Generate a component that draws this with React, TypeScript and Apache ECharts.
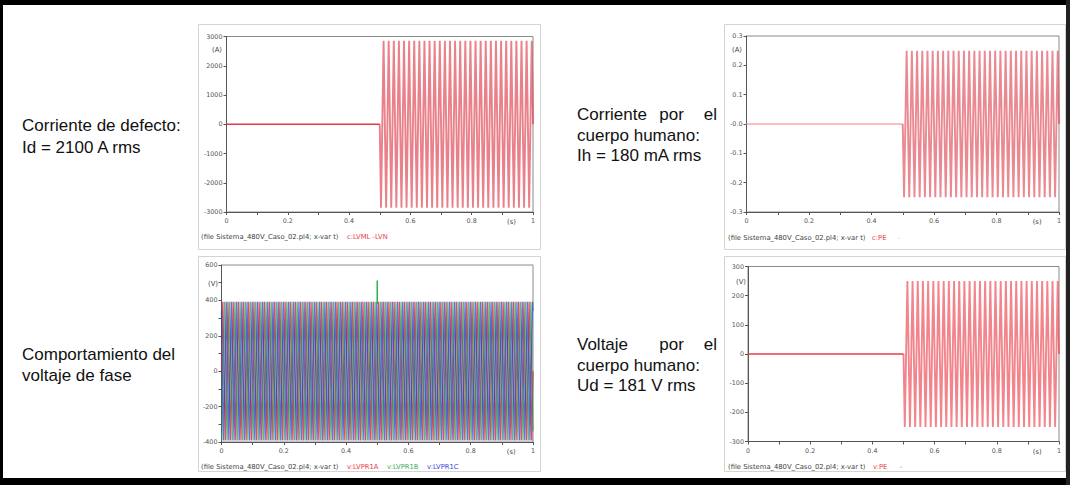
import React, { useEffect, useRef } from "react";
import * as echarts from "echarts";

// ---------------- data ----------------
const timeMin = 0;
const timeMax = 1;
const timeStep = 0.1;
const faultStart = 0.5;
const halfCycle = 1 / 120;

// Fault current c:LVML-LVN (A): successive extremes after the fault
const faultCurrentPeaks = [
  -2850, 2850, -2850, 2850, -2850, 2850, -2850, 2850, -2850, 2850,
  -2850, 2850, -2850, 2850, -2850, 2850, -2850, 2850, -2850, 2850,
  -2850, 2850, -2850, 2850, -2850, 2850, -2850, 2850, -2850, 2850,
  -2850, 2850, -2850, 2850, -2850, 2850, -2850, 2850, -2850, 2850,
  -2850, 2850, -2850, 2850, -2850, 2850, -2850, 2850, -2850, 2850,
  -2850, 2850, -2850, 2850, -2850, 2850, -2850, 2850, -2850, 2850,
];
// Body current c:PE (A)
const bodyCurrentPeaks = [
  -0.25, 0.25, -0.25, 0.25, -0.25, 0.25, -0.25, 0.25, -0.25, 0.25,
  -0.25, 0.25, -0.25, 0.25, -0.25, 0.25, -0.25, 0.25, -0.25, 0.25,
  -0.25, 0.25, -0.25, 0.25, -0.25, 0.25, -0.25, 0.25, -0.25, 0.25,
  -0.25, 0.25, -0.25, 0.25, -0.25, 0.25, -0.25, 0.25, -0.25, 0.25,
  -0.25, 0.25, -0.25, 0.25, -0.25, 0.25, -0.25, 0.25, -0.25, 0.25,
  -0.25, 0.25, -0.25, 0.25, -0.25, 0.25, -0.25, 0.25, -0.25, 0.25,
];
// Body voltage v:PE (V)
const bodyVoltagePeaks = [
  -250, 250, -250, 250, -250, 250, -250, 250, -250, 250,
  -250, 250, -250, 250, -250, 250, -250, 250, -250, 250,
  -250, 250, -250, 250, -250, 250, -250, 250, -250, 250,
  -250, 250, -250, 250, -250, 250, -250, 250, -250, 250,
  -250, 250, -250, 250, -250, 250, -250, 250, -250, 250,
  -250, 250, -250, 250, -250, 250, -250, 250, -250, 250,
];
// Phase voltages v:LVPR1A / B / C (V): successive extremes over 0..1 s
const phaseAPeaks = [
  392, -392, 392, -392, 392, -392, 392, -392, 392, -392, 392, -392,
  392, -392, 392, -392, 392, -392, 392, -392, 392, -392, 392, -392,
  392, -392, 392, -392, 392, -392, 392, -392, 392, -392, 392, -392,
  392, -392, 392, -392, 392, -392, 392, -392, 392, -392, 392, -392,
  392, -392, 392, -392, 392, -392, 392, -392, 392, -392, 392, -392,
  392, -392, 392, -392, 392, -392, 392, -392, 392, -392, 392, -392,
  392, -392, 392, -392, 392, -392, 392, -392, 392, -392, 392, -392,
  392, -392, 392, -392, 392, -392, 392, -392, 392, -392, 392, -392,
  392, -392, 392, -392, 392, -392, 392, -392, 392, -392, 392, -392,
  392, -392, 392, -392, 392, -392, 392, -392, 392, -392, 392, -392,
];
const phaseBPeaks = [
  -392, 392, -392, 392, -392, 392, -392, 392, -392, 392, -392, 392,
  -392, 392, -392, 392, -392, 392, -392, 392, -392, 392, -392, 392,
  -392, 392, -392, 392, -392, 392, -392, 392, -392, 392, -392, 392,
  -392, 392, -392, 392, -392, 392, -392, 392, -392, 392, -392, 392,
  -392, 392, -392, 392, -392, 392, -392, 392, -392, 392, -392, 392,
  -392, 392, -392, 392, -392, 392, -392, 392, -392, 392, -392, 392,
  -392, 392, -392, 392, -392, 392, -392, 392, -392, 392, -392, 392,
  -392, 392, -392, 392, -392, 392, -392, 392, -392, 392, -392, 392,
  -392, 392, -392, 392, -392, 392, -392, 392, -392, 392, -392, 392,
  -392, 392, -392, 392, -392, 392, -392, 392, -392, 392, -392, 392,
];
const phaseCPeaks = [
  -392, 392, -392, 392, -392, 392, -392, 392, -392, 392, -392, 392,
  -392, 392, -392, 392, -392, 392, -392, 392, -392, 392, -392, 392,
  -392, 392, -392, 392, -392, 392, -392, 392, -392, 392, -392, 392,
  -392, 392, -392, 392, -392, 392, -392, 392, -392, 392, -392, 392,
  -392, 392, -392, 392, -392, 392, -392, 392, -392, 392, -392, 392,
  -392, 392, -392, 392, -392, 392, -392, 392, -392, 392, -392, 392,
  -392, 392, -392, 392, -392, 392, -392, 392, -392, 392, -392, 392,
  -392, 392, -392, 392, -392, 392, -392, 392, -392, 392, -392, 392,
  -392, 392, -392, 392, -392, 392, -392, 392, -392, 392, -392, 392,
  -392, 392, -392, 392, -392, 392, -392, 392, -392, 392, -392, 392,
];
const phaseStartValues = [0, -340, 340];
const phaseEndValues = [0, -340, 340];
const phaseFirstPeakTimes = [0.004167, 0.001389, 0.006944];
const spikeTimes = [0.5, 0.5];
const spikeValues = [380, 512];

const fileLabel = "(file Sistema_480V_Caso_02.pl4; x-var t)";
const seriesNames = {
  fault: "c:LVML -LVN",
  bodyCurrent: "c:PE",
  phaseA: "v:LVPR1A",
  phaseB: "v:LVPR1B",
  phaseC: "v:LVPR1C",
  bodyVoltage: "v:PE",
};

// ---------------- helpers ----------------
function flatPart() {
  return [[timeMin, 0], [faultStart, 0]];
}
function afterFault(peaks: number[]) {
  const pts: number[][] = [[faultStart, 0]];
  peaks.forEach((v, i) => pts.push([faultStart + halfCycle / 2 + i * halfCycle, v]));
  pts.push([timeMax, 0]);
  return pts;
}
function phaseWave(idx: number, peaks: number[]) {
  const pts: number[][] = [[timeMin, phaseStartValues[idx]]];
  peaks.forEach((v, i) => pts.push([phaseFirstPeakTimes[idx] + i * halfCycle, v]));
  pts.push([timeMax, phaseEndValues[idx]]);
  return pts;
}

const grids = [
  { left: 226.5, top: 36.5, width: 306.5, height: 175.5 },
  { left: 746.5, top: 36, width: 312.5, height: 176 },
  { left: 221.5, top: 265, width: 311.5, height: 177 },
  { left: 748, top: 266.5, width: 311, height: 175 },
];
const yRanges = [
  { min: -3000, max: 3000, interval: 1000 },
  { min: -0.3, max: 0.3, interval: 0.1 },
  { min: -400, max: 600, interval: 100 },
  { min: -300, max: 300, interval: 100 },
];

const tickFont = { fontSize: 6.4, color: "#555", fontFamily: "DejaVu Sans" };

function yFormatter(i: number) {
  return (v: number) => {
    if (i === 1) {
      if (Math.abs(v) < 1e-9) return "-0.0";
      return v.toFixed(1);
    }
    if (i === 2) return Math.round(v) % 200 === 0 ? String(Math.round(v)) : "";
    return String(Math.round(v));
  };
}
function xFormatter(v: number) {
  const k = Math.round(v * 10);
  if (k % 2 !== 0) return "";
  if (k === 0) return "0";
  if (k === 10) return "1";
  return (k / 10).toFixed(1);
}

function txt(text: string, x: number, y: number, extra: any = {}) {
  return {
    type: "text",
    x,
    y,
    silent: true,
    z: 10,
    style: {
      text,
      fill: extra.fill || "#111",
      fontSize: extra.fontSize || 17,
      fontFamily: extra.fontFamily || "Liberation Sans",
      align: extra.align || "left",
      verticalAlign: "middle",
    },
  };
}

export default function App() {
  const ref = useRef<HTMLDivElement>(null);
  useEffect(() => {
    if (!ref.current) return;
    const chart = echarts.init(ref.current, null, { renderer: "svg" });

    const xAxes = grids.map((_, i) => ({
      type: "value",
      gridIndex: i,
      min: timeMin,
      max: timeMax,
      interval: timeStep,
      axisLine: { show: true, onZero: false, lineStyle: { color: "#555", width: 1 } },
      axisTick: { show: true, length: 3, lineStyle: { color: "#555" } },
      axisLabel: { ...tickFont, margin: 6, formatter: xFormatter, showMinLabel: true, showMaxLabel: true },
      splitLine: { show: false },
    }));
    const yAxes = grids.map((_, i) => ({
      type: "value",
      gridIndex: i,
      min: yRanges[i].min,
      max: yRanges[i].max,
      interval: yRanges[i].interval,
      axisLine: { show: true, onZero: false, lineStyle: { color: "#555", width: 1 } },
      axisTick: { show: true, length: 3, lineStyle: { color: "#555" } },
      axisLabel: { ...tickFont, margin: 4, formatter: yFormatter(i), showMinLabel: true, showMaxLabel: true },
      splitLine: { show: false },
    }));

    const line = (i: number, data: number[][], color: string, width = 1, opacity = 1, name = "") => ({
      type: "line",
      name,
      xAxisIndex: i,
      yAxisIndex: i,
      data,
      showSymbol: false,
      symbol: "none",
      silent: true,
      lineStyle: { color, width, opacity },
    });

    const series = [
      line(0, flatPart(), "#e23a46", 1.6, 1, seriesNames.fault),
      line(0, afterFault(faultCurrentPeaks), "#dc2c3c", 1.9, 0.6, seriesNames.fault),
      line(1, flatPart(), "#f6a9ae", 1.5, 1, seriesNames.bodyCurrent),
      line(1, afterFault(bodyCurrentPeaks), "#dc3a48", 1.9, 0.6, seriesNames.bodyCurrent),
      line(2, phaseWave(0, phaseAPeaks), "#d42434", 1.3, 0.8, seriesNames.phaseA),
      line(2, phaseWave(1, phaseBPeaks), "#1f9a4a", 1.3, 0.7, seriesNames.phaseB),
      line(2, phaseWave(2, phaseCPeaks), "#2a3ccc", 1.3, 0.72, seriesNames.phaseC),
      line(2, spikeTimes.map((t, k) => [t, spikeValues[k]]), "#2fae55", 1.5, 1, seriesNames.phaseB),
      line(3, flatPart(), "#ee3a44", 1.6, 1, seriesNames.bodyVoltage),
      line(3, afterFault(bodyVoltagePeaks), "#ea3440", 1.9, 0.6, seriesNames.bodyVoltage),
    ];

    const small = { fontSize: 6.8, fontFamily: "DejaVu Sans", fill: "#444" };
    const graphic: any[] = [
      // outer frame
      { type: "rect", shape: { x: 0, y: 0, width: 1070, height: 5 }, style: { fill: "#000" }, silent: true },
      { type: "rect", shape: { x: 0, y: 0, width: 3, height: 485 }, style: { fill: "#000" }, silent: true },
      { type: "rect", shape: { x: 0, y: 478, width: 1070, height: 7 }, style: { fill: "#000" }, silent: true },
      { type: "rect", shape: { x: 1066, y: 0, width: 4, height: 485 }, style: { fill: "#222" }, silent: true },
      // screenshot frames
      { type: "rect", shape: { x: 198.5, y: 24.5, width: 342, height: 225 }, style: { fill: "none", stroke: "#d4d4d4", lineWidth: 1 }, silent: true },
      { type: "rect", shape: { x: 724.5, y: 24.5, width: 341, height: 225 }, style: { fill: "none", stroke: "#d4d4d4", lineWidth: 1 }, silent: true },
      { type: "rect", shape: { x: 198.5, y: 256.5, width: 342, height: 215 }, style: { fill: "none", stroke: "#d4d4d4", lineWidth: 1 }, silent: true },
      { type: "rect", shape: { x: 724.5, y: 256.5, width: 341, height: 215 }, style: { fill: "none", stroke: "#d4d4d4", lineWidth: 1 }, silent: true },
      // descriptions
      txt("Corriente de defecto:", 22, 125.5),
      txt("Id = 2100 A rms", 22, 147),
      txt("Corriente", 577, 114),
      txt("por", 671.5, 114, { align: "center" }),
      txt("el", 717, 114, { align: "right" }),
      txt("cuerpo humano:", 577, 135.5),
      txt("Ih = 180 mA rms", 577, 155.5),
      txt("Comportamiento del", 22, 354.5),
      txt("voltaje de fase", 22, 375.5),
      txt("Voltaje", 577, 344),
      txt("por", 671.5, 344, { align: "center" }),
      txt("el", 717, 344, { align: "right" }),
      txt("cuerpo humano:", 577, 365.5),
      txt("Ud = 181 V rms", 577, 385.5),
      // units
      txt("(A)", 222, 50, { ...small, align: "right" }),
      txt("(A)", 742, 50, { ...small, align: "right" }),
      txt("(V)", 218, 284, { ...small, align: "right" }),
      txt("(V)", 746, 282, { ...small, align: "right" }),
      txt("(s)", grids[0].left + 0.93 * grids[0].width, 222, { ...small, align: "center" }),
      txt("(s)", grids[1].left + 0.93 * grids[1].width, 222, { ...small, align: "center" }),
      txt("(s)", grids[2].left + 0.93 * grids[2].width, 452, { ...small, align: "center" }),
      txt("(s)", grids[3].left + 0.93 * grids[3].width, 452, { ...small, align: "center" }),
      // footers
      txt(fileLabel, 201, 237, small),
      txt(seriesNames.fault, 347, 237, { ...small, fill: "#e8404a" }),
      txt(fileLabel, 728, 238, small),
      txt(seriesNames.bodyCurrent, 872, 238, { ...small, fill: "#e8404a" }),
      txt("-", 898, 238, { ...small, fill: "#f4a8ae" }),
      txt(fileLabel, 201, 467, small),
      txt(seriesNames.phaseA, 347, 467, { ...small, fill: "#e8404a" }),
      txt(seriesNames.phaseB, 387, 467, { ...small, fill: "#3aae5a" }),
      txt(seriesNames.phaseC, 427, 467, { ...small, fill: "#3a48d8" }),
      txt(fileLabel, 728, 467, small),
      txt(seriesNames.bodyVoltage, 873, 467, { ...small, fill: "#e8404a" }),
      txt("-", 900, 467, { ...small, fill: "#e8404a" }),
    ];

    chart.setOption({
      animation: false,
      backgroundColor: "#fff",
      grid: grids.map((g) => ({ ...g, show: true, borderColor: "#8a8a8a", borderWidth: 1, backgroundColor: "transparent" })),
      xAxis: xAxes,
      yAxis: yAxes,
      series,
      graphic,
    });
    return () => chart.dispose();
  }, []);
  return (
    <div
      ref={ref}
      style={{ position: "absolute", left: 0, top: 0, width: 1070, height: 485, background: "#fff" }}
    />
  );
}
